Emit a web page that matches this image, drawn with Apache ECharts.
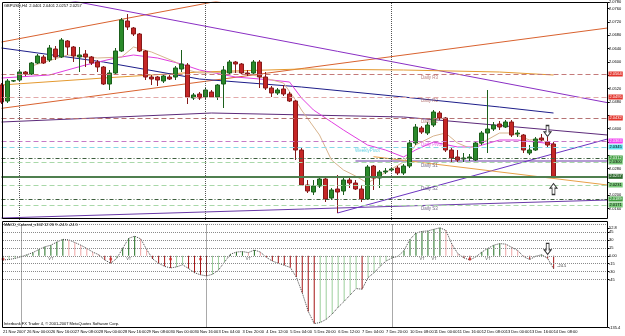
<!DOCTYPE html>
<html>
<head>
<meta charset="utf-8">
<script src="https://cdn.jsdelivr.net/npm/echarts@6/dist/echarts.min.js"></script>
<style>
html, body { margin: 0; padding: 0; background: #fff; }
#chart { width: 625px; height: 336px; }
</style>
</head>
<body>
<div id="chart"></div>
<script>
// GBPUSD H4 with daily/weekly pivots and MACD_Colored panel

var chartTitle = 'GBPUSD,H4  2.0401 2.0401 2.0257 2.0257';
var macdTitle = 'MACD_Colored_v102 12 26 9 -24.5 -24.5';
var footer = 'Interbank FX Trader 4, \u00a9 2001-2007 MetaQuotes Software Corp.';

// one label every 4 bars
var tickLabels = ['21 Nov 2007', '26 Nov 00:00', '26 Nov 16:00', '27 Nov 08:00', '28 Nov 00:00', '28 Nov 16:00',
    '29 Nov 08:00', '30 Nov 00:00', '30 Nov 16:00', '3 Dec 04:00', '3 Dec 20:00', '4 Dec 12:00',
    '5 Dec 04:00', '5 Dec 20:00', '6 Dec 12:00', '7 Dec 04:00', '7 Dec 20:00', '10 Dec 08:00',
    '11 Dec 00:00', '11 Dec 16:00', '12 Dec 08:00', '13 Dec 00:00', '13 Dec 16:00', '14 Dec 08:00'];

// [open, close, low, high]
var candles = [
    [2.0531, 2.0480, 2.0474, 2.0537], [2.0483, 2.0543, 2.0477, 2.0549], [2.0543, 2.0544, 2.0540, 2.0546],
    [2.0546, 2.0570, 2.0540, 2.0576], [2.0570, 2.0564, 2.0558, 2.0573], [2.0564, 2.0597, 2.0561, 2.0600],
    [2.0597, 2.0618, 2.0594, 2.0624], [2.0615, 2.0597, 2.0594, 2.0621], [2.0606, 2.0642, 2.0600, 2.0651],
    [2.0639, 2.0615, 2.0606, 2.0648], [2.0615, 2.0666, 2.0612, 2.0672], [2.0663, 2.0645, 2.0621, 2.0666],
    [2.0645, 2.0618, 2.0600, 2.0648], [2.0615, 2.0621, 2.0570, 2.0645], [2.0624, 2.0615, 2.0585, 2.0636],
    [2.0615, 2.0597, 2.0591, 2.0618], [2.0600, 2.0585, 2.0570, 2.0606], [2.0585, 2.0534, 2.0531, 2.0588],
    [2.0534, 2.0567, 2.0516, 2.0576], [2.0567, 2.0633, 2.0561, 2.0642], [2.0633, 2.0726, 2.0630, 2.0732],
    [2.0723, 2.0705, 2.0696, 2.0744], [2.0702, 2.0684, 2.0678, 2.0705], [2.0684, 2.0633, 2.0630, 2.0687],
    [2.0633, 2.0555, 2.0546, 2.0636], [2.0555, 2.0549, 2.0531, 2.0561], [2.0555, 2.0546, 2.0528, 2.0558],
    [2.0543, 2.0558, 2.0537, 2.0561], [2.0555, 2.0549, 2.0546, 2.0561], [2.0555, 2.0582, 2.0546, 2.0588],
    [2.0579, 2.0594, 2.0570, 2.0636], [2.0591, 2.0495, 2.0474, 2.0597], [2.0492, 2.0501, 2.0486, 2.0507],
    [2.0504, 2.0492, 2.0486, 2.0510], [2.0495, 2.0516, 2.0489, 2.0522], [2.0510, 2.0495, 2.0492, 2.0516],
    [2.0495, 2.0531, 2.0486, 2.0534], [2.0534, 2.0576, 2.0462, 2.0588], [2.0567, 2.0600, 2.0561, 2.0606],
    [2.0600, 2.0594, 2.0567, 2.0603], [2.0594, 2.0567, 2.0564, 2.0597], [2.0567, 2.0564, 2.0558, 2.0576],
    [2.0567, 2.0600, 2.0564, 2.0606], [2.0600, 2.0555, 2.0522, 2.0606], [2.0555, 2.0522, 2.0516, 2.0570],
    [2.0522, 2.0507, 2.0495, 2.0528], [2.0507, 2.0516, 2.0501, 2.0522], [2.0519, 2.0504, 2.0498, 2.0531],
    [2.0504, 2.0483, 2.0480, 2.0510], [2.0483, 2.0336, 2.0306, 2.0486], [2.0336, 2.0231, 2.0228, 2.0342],
    [2.0231, 2.0213, 2.0207, 2.0246], [2.0210, 2.0228, 2.0201, 2.0246], [2.0228, 2.0249, 2.0222, 2.0255],
    [2.0249, 2.0189, 2.0180, 2.0255], [2.0192, 2.0216, 2.0186, 2.0222], [2.0219, 2.0210, 2.0147, 2.0261],
    [2.0213, 2.0246, 2.0201, 2.0252], [2.0246, 2.0237, 2.0222, 2.0252], [2.0237, 2.0219, 2.0216, 2.0246],
    [2.0219, 2.0189, 2.0180, 2.0231], [2.0189, 2.0285, 2.0186, 2.0291], [2.0288, 2.0252, 2.0216, 2.0291],
    [2.0252, 2.0270, 2.0222, 2.0276], [2.0270, 2.0273, 2.0264, 2.0282], [2.0276, 2.0279, 2.0270, 2.0285],
    [2.0282, 2.0267, 2.0261, 2.0288], [2.0267, 2.0288, 2.0261, 2.0294], [2.0288, 2.0357, 2.0282, 2.0366],
    [2.0357, 2.0405, 2.0351, 2.0414], [2.0402, 2.0390, 2.0384, 2.0408], [2.0387, 2.0411, 2.0381, 2.0420],
    [2.0411, 2.0450, 2.0405, 2.0456], [2.0447, 2.0432, 2.0426, 2.0453], [2.0432, 2.0336, 2.0330, 2.0435],
    [2.0336, 2.0312, 2.0300, 2.0342], [2.0315, 2.0306, 2.0300, 2.0336], [2.0309, 2.0312, 2.0300, 2.0327],
    [2.0312, 2.0315, 2.0303, 2.0324], [2.0306, 2.0357, 2.0303, 2.0363], [2.0357, 2.0387, 2.0351, 2.0393],
    [2.0387, 2.0399, 2.0327, 2.0516], [2.0399, 2.0411, 2.0393, 2.0420], [2.0414, 2.0405, 2.0396, 2.0423],
    [2.0405, 2.0420, 2.0402, 2.0426], [2.0420, 2.0381, 2.0375, 2.0426], [2.0384, 2.0387, 2.0375, 2.0396],
    [2.0381, 2.0336, 2.0327, 2.0384], [2.0327, 2.0336, 2.0321, 2.0351], [2.0336, 2.0369, 2.0333, 2.0375],
    [2.0372, 2.0366, 2.0360, 2.0384], [2.0360, 2.0351, 2.0345, 2.0375], [2.0354, 2.0257, 2.0254, 2.0360]
];

// moving averages, [bar, price]
var navyMa = [[0, 2.0642], [17, 2.0600], [33, 2.0549], [50, 2.0525], [67, 2.0495], [83, 2.0465], [92, 2.0447]];
var goldMa = [[0, 2.0531], [17, 2.0552], [33, 2.0570], [50, 2.0579], [67, 2.0576], [83, 2.0570], [92, 2.0561]];
var magentaMa = [[0, 2.0552], [8, 2.0561], [14, 2.0591], [19, 2.0612], [22, 2.0621], [26, 2.0612], [30, 2.0594],
    [33, 2.0576], [39, 2.0555], [45, 2.0546], [48, 2.0540], [50, 2.0492], [52, 2.0456], [55, 2.0420],
    [57, 2.0396], [61, 2.0351], [64, 2.0336], [67, 2.0315], [69, 2.0336], [72, 2.0360], [76, 2.0345],
    [79, 2.0345], [83, 2.0366], [86, 2.0366], [89, 2.0360], [92, 2.0354]];
var tanMa = [[5, 2.0588], [11, 2.0621], [16, 2.0612], [20, 2.0615], [22, 2.0645], [25, 2.0630], [29, 2.0600],
    [31, 2.0576], [33, 2.0567], [40, 2.0570], [47, 2.0537], [49, 2.0486], [50, 2.0456], [53, 2.0381],
    [55, 2.0306], [57, 2.0276], [59, 2.0258], [61, 2.0237], [63, 2.0258], [67, 2.0300], [69, 2.0351],
    [72, 2.0378], [74, 2.0387], [76, 2.0357], [78, 2.0342], [80, 2.0357], [83, 2.0387], [85, 2.0387],
    [88, 2.0366], [90, 2.0369], [92, 2.0342]];

// drawn trend lines, [bar, price]
var channelTop = [[0, 2.0660], [40, 2.0796]];
var channelBottom = [[0, 2.0461], [101, 2.0702]];
var fallingLine = [[11, 2.0786], [101, 2.0478]];
var risingLine = [[56, 2.0147], [101, 2.0369]];
var supportLine = [[62, 2.0316], [101, 2.0231]];
var midLine = [[0, 2.0420], [35, 2.0447], [67, 2.0435], [101, 2.0381]];
var floorLine = [[0, 2.0132], [101, 2.0186]];
var s1Segment = [[59, 2.0303], [101, 2.0303]];

// horizontal levels
var levelNames = ['Daily R3', 'Daily R2', 'Daily R1', 'Daily Pivot', 'WeeklyPivot', 'Weekly S1',
    'Daily S1', 'Bid', 'Daily S2', 'Weekly S2', 'Daily S3'];
var levelValues = [2.0564, 2.0495, 2.0432, 2.0363, 2.0345, 2.0312, 2.0300, 2.0257, 2.0231, 2.0189, 2.0171];

var weekStarts = [3, 34, 65];

var downArrowAt = [91, 2.0393];
var upArrowAt = [92, 2.0219];

// MACD histogram per bar
var macd = [-8, -7, -5, -2, 2, 6, 12, 17, 20, 26, 31, 30, 25, 20, 14, 7, 2, -8, -14, -5,
    14, 33, 37, 32, 12, -6, -14, -20, -23, -21, -17, -24, -32, -36, -38, -35, -27, -12, 3, 7,
    8, 6, 11, 7, -3, -10, -14, -18, -22, -40, -70, -105, -128, -126, -120, -110, -97, -86, -74, -62,
    -63, -41, -32, -20, -10, -4, -1, 10, 31, 43, 46, 47, 50, 52.8, 48, 22, 4, -4, -8, -2,
    7, 14, 20, 23, 22, 16, 10, -2, -7, -1, 2, -5, -24.5];
var macdLevels = [60, 45, 30, 15, 0, -15, -30, -45];
var macdTicks = [-135.4, -45, -30, -15, 0, 15, 30, 45, 52.8];
var vtMarks = [8, 21, 41, 70, 72, 81];
var dotMarks = [0, 18, 28, 33, 78];
var macdArrowAt = [91, 13];
var lastMacdText = '-24.5';

var FONT = 'Liberation Sans';

var slots = [];
for (var s = 0; s < 102; s++) slots.push(s);

var levelLook = {
    'Daily R3': { line: '#c47a7a', dash: [5, 3], box: '#e3342c', boxText: '#fff', text: '#a65858', at: 70 },
    'Daily R2': { line: '#e2a9a9', dash: [5, 3], box: '#e3342c', boxText: '#fff', text: '#a65858', at: 70 },
    'Daily R1': { line: '#b57272', dash: [5, 3], box: '#e3342c', boxText: '#fff', text: '#a65858', at: 70 },
    'Daily Pivot': { line: '#c679c6', dash: [5, 3], box: '#f040f0', boxText: '#fff', text: '#e040e0', at: 70 },
    'WeeklyPivot': { line: '#86d9e6', dash: [5, 3], box: '#5fe3f0', boxText: '#000', text: '#3fc6dc', at: 59 },
    'Weekly S1': { line: '#3d5e3d', dash: [4, 2, 1, 2], box: '#3f9e3f', boxText: '#fff' },
    'Daily S1': { line: '#a9d8a9', dash: [5, 3], box: '#7acb7a', boxText: '#000', text: '#4a3e66', at: 70 },
    'Bid': { line: '#4f7f4f', dash: 'solid', width: 2, box: '#2d6a2d', boxText: '#fff' },
    'Daily S2': { line: '#a9d8a9', dash: [5, 3], box: '#7acb7a', boxText: '#000', text: '#4a3e66', at: 70 },
    'Weekly S2': { line: '#3d5e3d', dash: [4, 2, 1, 2], box: '#3f9e3f', boxText: '#fff' },
    'Daily S3': { line: '#a9d8a9', dash: [5, 3], box: '#7acb7a', boxText: '#000', text: '#4a3e66', at: 70 }
};

var levelLines = levelNames.map(function (n, k) {
    var lk = levelLook[n];
    return {
        yAxis: levelValues[k],
        lineStyle: { color: lk.line, type: lk.dash, width: lk.width || 1 },
        label: {
            show: true, position: 'end', distance: 1, formatter: levelValues[k].toFixed(4),
            backgroundColor: lk.box, color: lk.boxText, fontSize: 4, fontFamily: FONT,
            padding: [0, 1], lineHeight: 5
        }
    };
});

function weekLines() {
    return weekStarts.map(function (i) {
        return { xAxis: i, lineStyle: { color: '#555', type: 'dotted', width: 1 }, label: { show: false } };
    });
}

var levelLabels = [];
levelNames.forEach(function (n, k) {
    var lk = levelLook[n];
    if (!lk.at) return;
    levelLabels.push({
        value: [lk.at, levelValues[k]],
        label: {
            show: true, formatter: n, color: lk.text, position: [0, 1.5], align: 'left', verticalAlign: 'top',
            fontSize: 4.5, fontFamily: FONT
        }
    });
});

function line(data, color, z) {
    return {
        type: 'line', xAxisIndex: 0, yAxisIndex: 0, data: data, symbol: 'none', silent: true,
        lineStyle: { color: color, width: 1 }, z: z || 2
    };
}

var arrowPath = 'path://M3,0L7,0L7,7L10,7L5,12L0,7L3,7Z';

function barColor(p) {
    var i = p.dataIndex;
    var v = macd[i];
    var prev = i > 0 ? macd[i - 1] : v;
    if (v >= prev) return v >= 0 ? '#1e6e1e' : '#9ccf9c';
    return v >= 0 ? '#f0a4a4' : '#a51414';
}

var myChart = echarts.init(document.getElementById('chart'), null, { renderer: 'canvas' });

var option = {
    animation: false,
    backgroundColor: '#fff',
    grid: [
        { left: 1.5, width: 606, top: 2, height: 220 },
        { left: 1.5, width: 606, top: 224, height: 103.5 }
    ],
    xAxis: [{
        type: 'category', gridIndex: 0, data: slots, boundaryGap: false,
        axisLine: { show: false }, axisTick: { show: false }, axisLabel: { show: false }, splitLine: { show: false }
    }, {
        type: 'category', gridIndex: 1, data: slots, boundaryGap: false,
        axisLine: { show: false }, axisTick: { show: false }, splitLine: { show: false },
        axisLabel: {
            interval: function (index) { return index % 4 === 0 && index / 4 < tickLabels.length; },
            formatter: function (value, index) { return tickLabels[index / 4] || ''; },
            align: 'left', margin: 2, fontSize: 4, fontFamily: FONT, color: '#000'
        }
    }],
    yAxis: [{
        type: 'value', gridIndex: 0, position: 'right', min: 2.0120, max: 2.0780, interval: 0.0040,
        splitLine: { show: false }, axisLine: { show: false },
        axisTick: { show: true, length: 2, lineStyle: { color: '#000' } },
        axisLabel: {
            margin: 1.5, fontSize: 4, fontFamily: FONT, color: '#000', showMinLabel: false,
            formatter: function (v) {
                for (var k = 0; k < levelValues.length; k++) {
                    if (Math.abs(levelValues[k] - v) < 0.0011) return '';
                }
                return v.toFixed(4);
            }
        }
    }, {
        type: 'value', gridIndex: 1, position: 'right', min: -135.4, max: 60,
        splitLine: { show: false }, axisLine: { show: false },
        axisTick: { show: true, length: 2, customValues: macdTicks, lineStyle: { color: '#000' } },
        axisLabel: {
            customValues: macdTicks, margin: 1.5, fontSize: 4, fontFamily: FONT, color: '#000',
            formatter: function (v) { return v === 0 ? '0.00' : String(v); }
        }
    }],
    series: [
        line(floorLine, '#6a3aa8'),
        line(midLine, '#5c2a7a'),
        line(s1Segment, '#6a3aa8'),
        line(channelTop, '#d9622f'),
        line(channelBottom, '#d9622f'),
        line(fallingLine, '#8a2fc4'),
        line(risingLine, '#6c34c0'),
        line(supportLine, '#e8a048'),
        line(goldMa, '#e49a30', 3),
        line(navyMa, '#1e1e8a', 3),
        line(magentaMa, '#e03ee0', 3),
        line(tanMa, '#d8b48e', 3),
        {
            type: 'candlestick', name: 'GBPUSD', xAxisIndex: 0, yAxisIndex: 0, data: candles, barWidth: 4, z: 4,
            itemStyle: {
                color: '#2a8a2a', color0: '#c52626',
                borderColor: '#1b5e1b', borderColor0: '#861a1a', borderWidth: 1
            },
            markLine: {
                symbol: ['none', 'none'], silent: true, animation: false, precision: 4,
                data: levelLines.concat(weekLines())
            }
        },
        {
            type: 'scatter', xAxisIndex: 0, yAxisIndex: 0, data: levelLabels, symbolSize: 1, silent: true,
            itemStyle: { color: 'transparent' }, z: 6
        },
        {
            type: 'scatter', xAxisIndex: 0, yAxisIndex: 0, data: [downArrowAt], symbol: arrowPath,
            symbolSize: [7, 11], silent: true, z: 7,
            itemStyle: { color: '#fff', borderColor: '#000', borderWidth: 1 }
        },
        {
            type: 'scatter', xAxisIndex: 0, yAxisIndex: 0, data: [upArrowAt], symbol: arrowPath,
            symbolSize: [7, 11], symbolRotate: 180, silent: true, z: 7,
            itemStyle: { color: '#fff', borderColor: '#000', borderWidth: 1 }
        },
        {
            type: 'bar', name: 'MACD', xAxisIndex: 1, yAxisIndex: 1, data: macd, barWidth: 1, silent: true,
            itemStyle: { color: barColor },
            markLine: {
                symbol: ['none', 'none'], silent: true, animation: false, precision: 4,
                data: macdLevels.map(function (v) {
                    return { yAxis: v, lineStyle: { color: '#8a8a8a', type: 'dotted', width: 1 }, label: { show: false } };
                }).concat(weekLines())
            }
        },
        {
            type: 'line', xAxisIndex: 1, yAxisIndex: 1, data: macd, symbol: 'none', silent: true,
            lineStyle: { color: '#444', width: 1, type: 'dotted' }, z: 3
        },
        {
            type: 'scatter', xAxisIndex: 1, yAxisIndex: 1, symbolSize: 1, silent: true,
            itemStyle: { color: 'transparent' }, z: 6,
            data: vtMarks.map(function (i) { return [i, -6]; }),
            label: { show: true, position: 'inside', formatter: 'VT', fontSize: 4, fontFamily: FONT, color: '#222' }
        },
        {
            type: 'scatter', xAxisIndex: 1, yAxisIndex: 1, symbolSize: 3, silent: true, z: 6,
            data: dotMarks.map(function (i) { return [i, -6]; }),
            itemStyle: { color: '#d02a2a' }
        },
        {
            type: 'scatter', xAxisIndex: 1, yAxisIndex: 1, data: [macdArrowAt], symbol: arrowPath,
            symbolSize: [7, 11], silent: true, z: 7,
            itemStyle: { color: '#fff', borderColor: '#000', borderWidth: 1 }
        },
        {
            type: 'scatter', xAxisIndex: 1, yAxisIndex: 1, symbolSize: 1, silent: true,
            itemStyle: { color: 'transparent' }, z: 6,
            data: [[92, -19]],
            label: { show: true, position: 'right', distance: 3, formatter: lastMacdText, fontSize: 4, fontFamily: FONT, color: '#000' }
        }
    ],
    graphic: [
        { type: 'rect', silent: true, z: 10, shape: { x: 2.5, y: 2.5, width: 605, height: 216 },
          style: { fill: 'none', stroke: '#000', lineWidth: 1 } },
        { type: 'rect', silent: true, z: 10, shape: { x: 2.5, y: 221.5, width: 605, height: 106 },
          style: { fill: 'none', stroke: '#000', lineWidth: 1 } },
        { type: 'text', silent: true, z: 10, x: 4, y: 3.5,
          style: { text: chartTitle, fontSize: 4, fontFamily: FONT, fill: '#000', verticalAlign: 'top' } },
        { type: 'text', silent: true, z: 10, x: 4, y: 223,
          style: { text: macdTitle, fontSize: 4, fontFamily: FONT, fill: '#000', verticalAlign: 'top' } },
        { type: 'text', silent: true, z: 10, x: 4, y: 321.5,
          style: { text: footer, fontSize: 4, fontFamily: FONT, fill: '#000', verticalAlign: 'top' } }
    ]
};

myChart.setOption(option);
</script>
</body>
</html>
